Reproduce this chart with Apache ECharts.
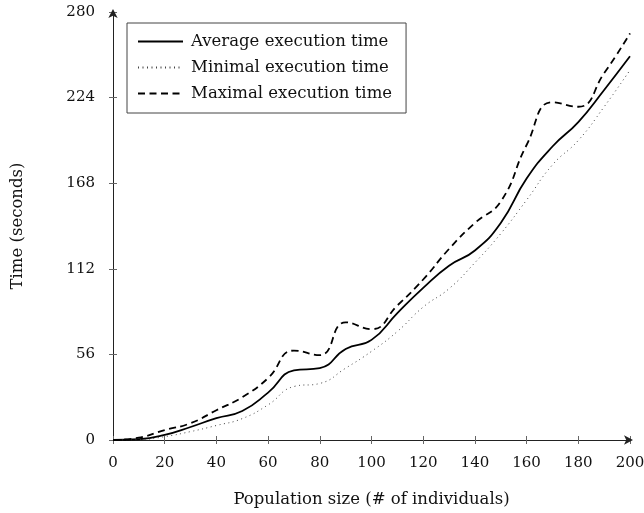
<!DOCTYPE html>
<html>
<head>
<meta charset="utf-8">
<script src="https://cdn.jsdelivr.net/npm/echarts@6/dist/echarts.min.js"></script>
<style>
html,body{margin:0;padding:0;background:#fff;}
#chart{width:644px;height:513px;}
</style>
</head>
<body>
<div id="chart"></div>
<script>
const populationSizes = [0,10,20,30,40,50,60,70,80,90,100,110,120,130,140,150,160,170,180,190,200];
const averageTime = [0,0.5,3.3,8.5,14.3,19,31,45.5,47,59.5,65.5,83,99.5,114,124,142,171,192,208,229,251];
const minimalTime = [0,0.2,2.2,5.5,9.5,14,23,35,37,47,58,71,87,99,116,135,157,180,196,218,242];
const maximalTime = [0,1.5,6.5,11,19.5,28,40.5,58.5,55.5,77,72.5,88,105,125,142,156,193,221,218,240,266];
const seriesNames = ['Average execution time','Minimal execution time','Maximal execution time'];
const yTicks = [0,56,112,168,224,280];

const FONT = 'DejaVu Serif';
const AX = '#222';
const toPairs = (ys) => populationSizes.map((x, i) => [x, ys[i]]);

const chart = echarts.init(document.getElementById('chart'), null, {renderer: 'canvas'});
const baseX = {
  type: 'value', min: 0, max: 200, interval: 20,
  splitLine: {show: false}, position: 'bottom'
};
const baseY = {
  type: 'value', min: yTicks[0], max: yTicks[yTicks.length - 1], interval: yTicks[1] - yTicks[0],
  splitLine: {show: false}, position: 'left'
};
chart.setOption({
  animation: false,
  backgroundColor: '#fff',
  grid: {left: 113, right: 14, top: 12, bottom: 73, containLabel: false, outerBoundsMode: 'none'},
  legend: {
    orient: 'vertical', left: 127, top: 23,
    itemWidth: 45, itemHeight: 14, itemGap: 9,
    padding: [10, 14, 11, 10],
    borderColor: '#444', borderWidth: 1,
    itemStyle: {color: 'transparent', borderWidth: 0, opacity: 0},
    textStyle: {fontFamily: FONT, fontSize: 16.5, color: '#111', padding: [0, 0, 0, 3]},
    data: seriesNames
  },
  xAxis: [
    Object.assign({}, baseX, {
      name: 'Population size (# of individuals)', nameLocation: 'middle', nameGap: 51,
      nameTextStyle: {fontFamily: FONT, fontSize: 16.5, color: '#111'},
      axisLine: {show: true, symbol: ['none', 'arrow'], symbolSize: [7, 9], symbolOffset: [0, 3], lineStyle: {color: AX, width: 1}},
      axisTick: {show: true, length: 4, lineStyle: {color: '#666'}},
      axisLabel: {fontFamily: FONT, fontSize: 15, color: '#111', margin: 16}
    }),
    Object.assign({}, baseX, {
      axisLine: {show: false}, axisLabel: {show: false},
      axisTick: {show: true, inside: true, length: 4, lineStyle: {color: '#666'}}
    })
  ],
  yAxis: [
    Object.assign({}, baseY, {
      name: 'Time (seconds)', nameLocation: 'middle', nameGap: 87, nameRotate: 90,
      nameTextStyle: {fontFamily: FONT, fontSize: 16.5, color: '#111'},
      axisLine: {show: true, symbol: ['none', 'arrow'], symbolSize: [7, 9], symbolOffset: [0, 3], lineStyle: {color: AX, width: 1}},
      axisTick: {show: true, length: 4, lineStyle: {color: '#666'}},
      axisLabel: {fontFamily: FONT, fontSize: 15, color: '#111', margin: 18}
    }),
    Object.assign({}, baseY, {
      axisLine: {show: false}, axisLabel: {show: false},
      axisTick: {show: true, inside: true, length: 4, lineStyle: {color: '#666'}}
    })
  ],
  series: [
    {name: seriesNames[0], type: 'line', smooth: 0.5, symbol: 'none', data: toPairs(averageTime),
     lineStyle: {color: '#000', width: 1.8, type: 'solid'}, itemStyle: {color: '#000'}},
    {name: seriesNames[1], type: 'line', smooth: 0.5, symbol: 'none', data: toPairs(minimalTime),
     lineStyle: {color: '#444', width: 1, type: [1, 3.5]}, itemStyle: {color: '#444'}},
    {name: seriesNames[2], type: 'line', smooth: 0.5, symbol: 'none', data: toPairs(maximalTime),
     lineStyle: {color: '#000', width: 1.8, type: [7, 4.5]}, itemStyle: {color: '#000'}}
  ]
});
</script>
</body>
</html>
